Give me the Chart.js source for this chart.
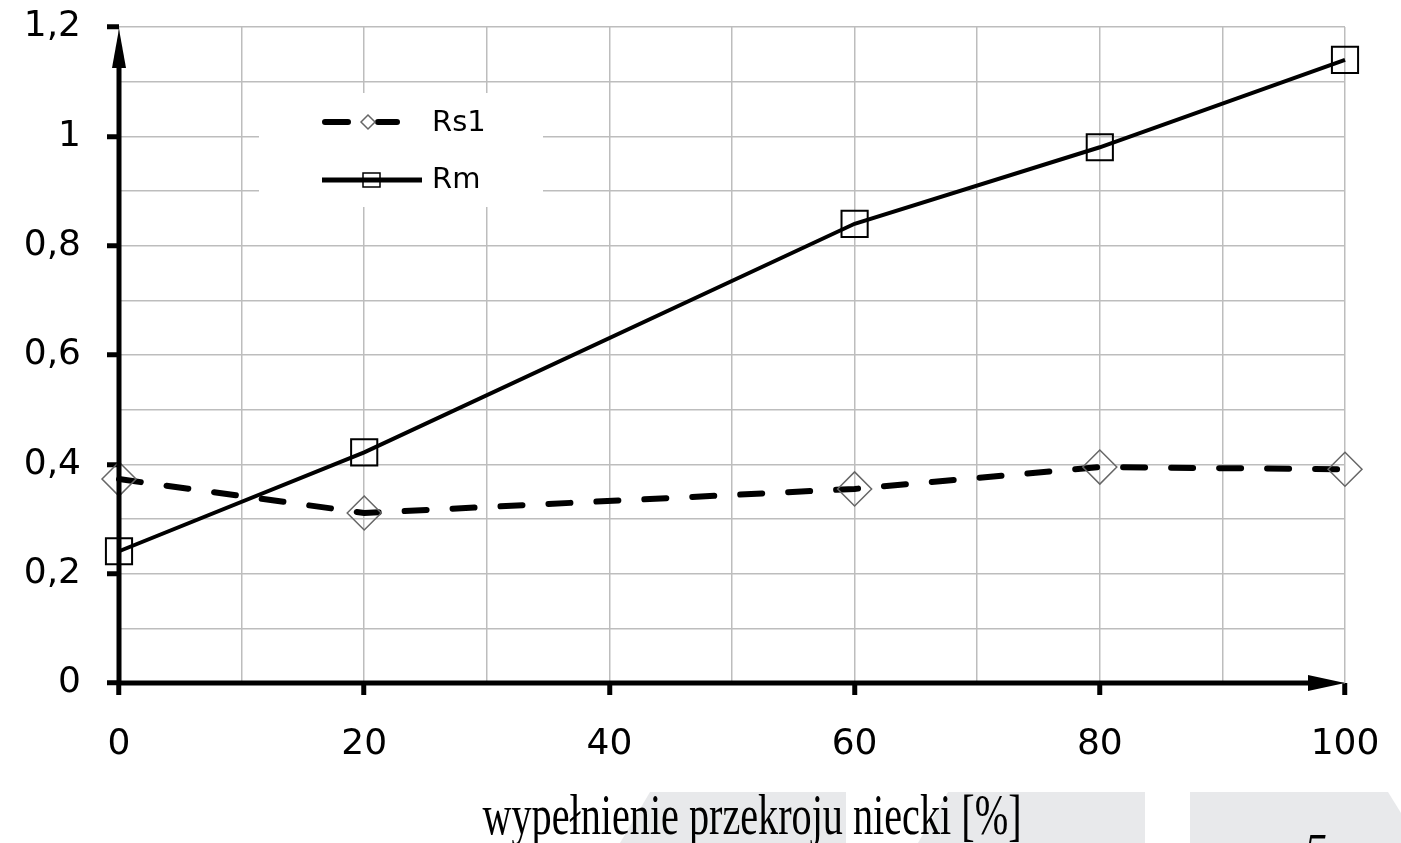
<!DOCTYPE html>
<html>
<head>
<meta charset="utf-8">
<script src="https://cdn.jsdelivr.net/npm/chart.js@4.4.1/dist/chart.umd.min.js"></script>
<style>
html,body{margin:0;padding:0;background:#fff;overflow:hidden;}
#wrap{width:1401px;height:843px;position:relative;}
canvas{display:block;}
</style>
</head>
<body>
<div id="wrap"><canvas id="c" width="1401" height="843"></canvas></div>
<script>
// ---- data ----
const xValues = [0, 20, 60, 80, 100];
const rs1Values = [0.373, 0.311, 0.355, 0.395, 0.391];
const rmValues = [0.241, 0.422, 0.840, 0.980, 1.140];
const seriesNames = ['Rs1', 'Rm'];
const xTickValues = [0, 20, 40, 60, 80, 100];
const xTickLabels = ['0', '20', '40', '60', '80', '100'];
const yTickValues = [0, 0.2, 0.4, 0.6, 0.8, 1, 1.2];
const yTickLabels = ['0', '0,2', '0,4', '0,6', '0,8', '1', '1,2'];
const xAxisTitle = 'wypełnienie przekroju niecki [%]';
const pageNumber = '5';

const near = (a, b) => Math.abs(a - b) < 1e-6;
const labelFor = (vals, labels, v) => {
  const i = vals.findIndex(t => near(t, v));
  return i >= 0 ? labels[i] : '';
};
const isMajor = (vals, v) => vals.some(t => near(t, v));

const TICK_FONT = {family: 'DejaVu Sans', size: 36};
const GRID_COLOR = '#bdbdbd';

const decorPlugin = {
  id: 'decor',
  beforeDraw(chart) {
    const ctx = chart.ctx;
    ctx.save();
    ctx.fillStyle = '#fff';
    ctx.fillRect(0, 0, chart.width, chart.height);
    // light grey page decoration shapes at the bottom
    ctx.fillStyle = '#e8e9eb';
    const shapes = [
      [[650,792],[846,792],[846,843],[620,843]],
      [[948,792],[1145,792],[1145,843],[918,843]],
      [[1190,792],[1388,792],[1401,813],[1401,843],[1190,843]]
    ];
    shapes.forEach(pts => {
      ctx.beginPath();
      pts.forEach((p, i) => i ? ctx.lineTo(p[0], p[1]) : ctx.moveTo(p[0], p[1]));
      ctx.closePath();
      ctx.fill();
    });
    ctx.restore();
  },
  beforeDatasetsDraw(chart) {
    const ctx = chart.ctx;
    const ds = chart.data.datasets;
    ctx.save();
    // legend box (covers the grid)
    ctx.fillStyle = '#fff';
    ctx.fillRect(259, 93, 284, 114);
    // Rs1 sample
    ctx.strokeStyle = ds[0].borderColor;
    ctx.lineWidth = 6;
    ctx.lineCap = 'round';
    ctx.setLineDash([23, 30]);
    ctx.beginPath();
    ctx.moveTo(325, 122);
    ctx.lineTo(397, 122);
    ctx.stroke();
    ctx.setLineDash([]);
    ctx.lineCap = 'butt';
    ctx.strokeStyle = ds[0].pointBorderColor;
    ctx.lineWidth = 1.5;
    ctx.beginPath();
    ctx.moveTo(361, 122); ctx.lineTo(368, 115); ctx.lineTo(375, 122); ctx.lineTo(368, 129);
    ctx.closePath();
    ctx.stroke();
    // Rm sample
    ctx.strokeStyle = ds[1].borderColor;
    ctx.lineWidth = 5;
    ctx.beginPath();
    ctx.moveTo(322, 180);
    ctx.lineTo(422, 180);
    ctx.stroke();
    ctx.lineWidth = 1.5;
    ctx.strokeRect(363, 173, 17, 14);
    // legend texts
    ctx.fillStyle = '#000';
    ctx.font = '29px "DejaVu Sans"';
    ctx.textAlign = 'left';
    ctx.textBaseline = 'middle';
    ctx.fillText(seriesNames[0], 432, 123);
    ctx.fillText(seriesNames[1], 432, 180);
    ctx.restore();
  },
  afterDatasetsDraw(chart) {
    const ctx = chart.ctx;
    const xs = chart.scales.x, ys = chart.scales.y;
    const x0 = xs.getPixelForValue(xs.min), x1 = xs.getPixelForValue(xs.max);
    const y0 = ys.getPixelForValue(ys.min), y1 = ys.getPixelForValue(ys.max);
    ctx.save();
    ctx.fillStyle = '#000';
    ctx.strokeStyle = '#000';
    ctx.lineWidth = 5;
    // y axis with arrow
    ctx.beginPath();
    ctx.moveTo(x0, y0 + 2);
    ctx.lineTo(x0, y1 + 40);
    ctx.stroke();
    ctx.beginPath();
    ctx.moveTo(x0, y1 + 2);
    ctx.lineTo(x0 - 7, y1 + 41);
    ctx.lineTo(x0 + 7, y1 + 41);
    ctx.closePath();
    ctx.fill();
    // x axis with arrow
    ctx.beginPath();
    ctx.moveTo(x0 - 2, y0);
    ctx.lineTo(x1 - 36, y0);
    ctx.stroke();
    ctx.beginPath();
    ctx.moveTo(x1, y0);
    ctx.lineTo(x1 - 37, y0 - 8);
    ctx.lineTo(x1 - 37, y0 + 8);
    ctx.closePath();
    ctx.fill();
    ctx.restore();
  },
  afterDraw(chart) {
    const ctx = chart.ctx;
    ctx.save();
    // axis title (condensed serif)
    ctx.fillStyle = '#000';
    ctx.font = '58px "Liberation Serif"';
    ctx.textBaseline = 'alphabetic';
    ctx.textAlign = 'center';
    ctx.translate(752, 834);
    ctx.scale(0.693, 1);
    ctx.fillText(xAxisTitle, 0, 0);
    ctx.restore();
    ctx.save();
    ctx.fillStyle = '#000';
    ctx.font = 'italic 46px "Liberation Serif"';
    ctx.textAlign = 'left';
    ctx.textBaseline = 'alphabetic';
    ctx.fillText(pageNumber, 1304, 866);
    ctx.restore();
  }
};

const chart = new Chart(document.getElementById('c'), {
  type: 'line',
  data: {
    datasets: [
      {
        label: seriesNames[0],
        data: xValues.map((x, i) => ({x: x, y: rs1Values[i]})),
        borderColor: '#000',
        borderWidth: 6,
        borderDash: [22, 26],
        borderCapStyle: 'round',
        pointStyle: 'rectRot',
        pointRadius: 17,
        pointHoverRadius: 17,
        pointBorderColor: '#666',
        pointBorderWidth: 1.5,
        pointBackgroundColor: 'rgba(0,0,0,0)',
        tension: 0,
        fill: false,
        clip: false
      },
      {
        label: seriesNames[1],
        data: xValues.map((x, i) => ({x: x, y: rmValues[i]})),
        borderColor: '#000',
        borderWidth: 4,
        pointStyle: 'rect',
        pointRadius: 18.5,
        pointHoverRadius: 18.5,
        pointBorderColor: '#000',
        pointBorderWidth: 2,
        pointBackgroundColor: 'rgba(0,0,0,0)',
        tension: 0,
        fill: false,
        clip: false
      }
    ]
  },
  options: {
    responsive: false,
    animation: false,
    devicePixelRatio: 1,
    layout: {padding: {top: 27, right: 56, left: 0, bottom: 0}},
    plugins: {legend: {display: false}, tooltip: {enabled: false}, title: {display: false}},
    scales: {
      x: {
        type: 'linear',
        min: 0, max: 100,
        ticks: {
          stepSize: 10, autoSkip: false, maxRotation: 0, padding: 28,
          color: '#000', font: TICK_FONT,
          callback: v => labelFor(xTickValues, xTickLabels, v)
        },
        grid: {
          color: GRID_COLOR, lineWidth: 1.5, tickLength: 12,
          tickColor: c => isMajor(xTickValues, c.tick.value) ? '#000' : 'rgba(0,0,0,0)',
          tickWidth: 5
        },
        border: {display: false},
        afterFit: s => { s.height = 160; s.paddingLeft = 0; s.paddingRight = 0; s.paddingTop = 0; s.paddingBottom = 0; }
      },
      y: {
        min: 0, max: 1.2,
        ticks: {
          stepSize: 0.1, autoSkip: false, padding: 26,
          color: '#000', font: TICK_FONT,
          callback: v => labelFor(yTickValues, yTickLabels, v)
        },
        grid: {
          color: GRID_COLOR, lineWidth: 1.5, tickLength: 12,
          tickColor: c => isMajor(yTickValues, c.tick.value) ? '#000' : 'rgba(0,0,0,0)',
          tickWidth: 5
        },
        border: {display: false},
        afterFit: s => { s.width = 119; s.paddingLeft = 0; s.paddingRight = 0; s.paddingTop = 0; s.paddingBottom = 0; }
      }
    }
  },
  plugins: [decorPlugin]
});
</script>
</body>
</html>
